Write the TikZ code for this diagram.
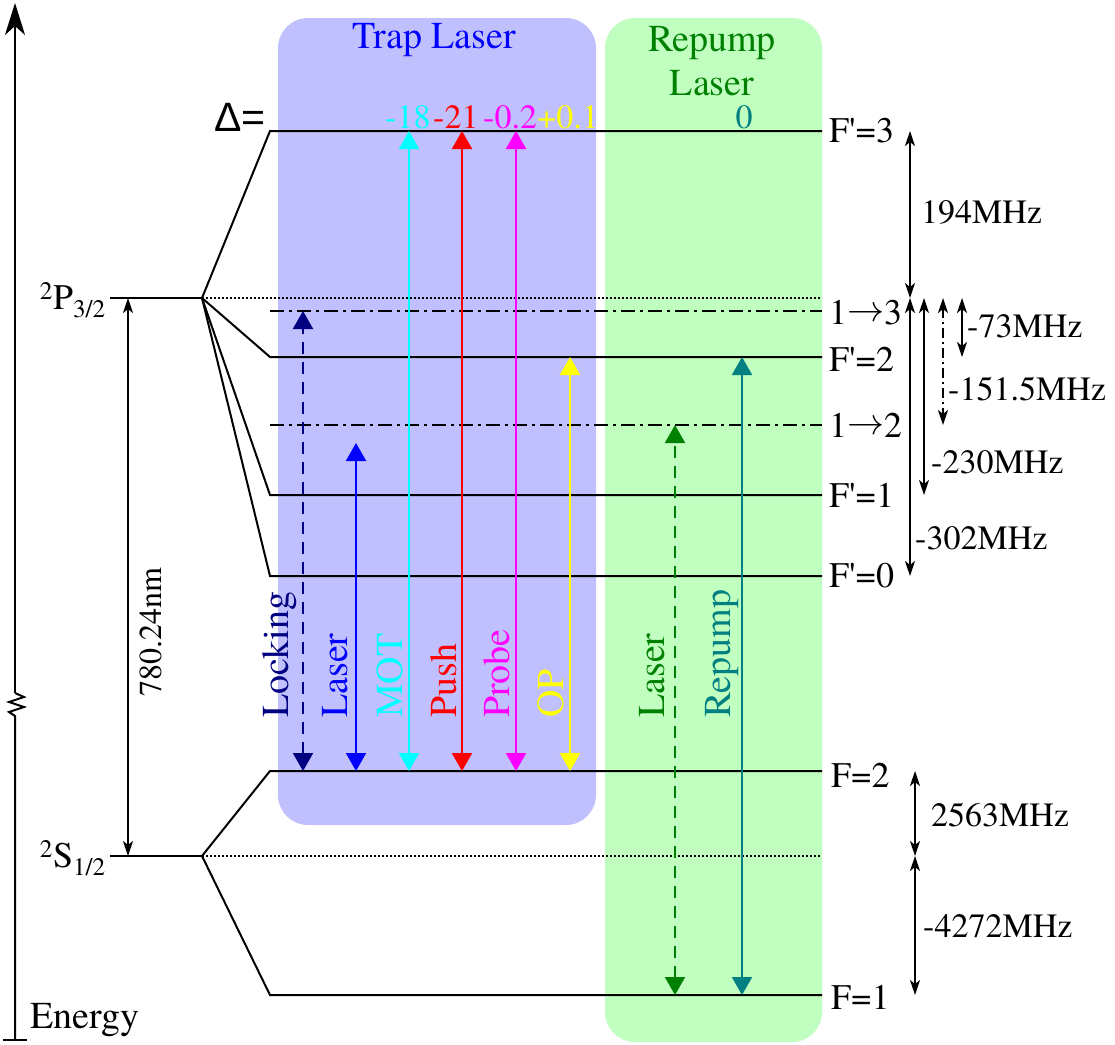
\documentclass[tikz,border=0pt]{standalone}
\usepackage{fontspec}
\setmainfont{TeX Gyre Termes}
\newfontfamily\sansf{Liberation Sans}
\usetikzlibrary{arrows.meta}
\definecolor{trapbg}{RGB}{192,192,255}
\definecolor{repbg}{RGB}{192,255,192}
\definecolor{dgreen}{RGB}{0,128,0}
\definecolor{tealc}{RGB}{0,128,128}
\definecolor{navyc}{RGB}{0,0,128}
\definecolor{yelc}{RGB}{255,255,0}
\definecolor{cyanc}{RGB}{0,255,255}
\definecolor{magc}{RGB}{255,0,255}
\definecolor{redc}{RGB}{255,0,0}
\definecolor{bluec}{RGB}{0,0,255}
\newcommand{\myarrow}{\raisebox{3pt}{\fontsize{10}{12}\selectfont\scalebox{3.7}{$\rightarrow$}}}
\tikzset{
  lvl/.style={line width=2pt},
  dotl/.style={line width=1.5pt, dash pattern=on 1.5pt off 2.5pt},
  dashdotl/.style={line width=1.5pt, dash pattern=on 14pt off 5pt on 3pt off 5pt},
  trarr/.style={line width=2pt, {Triangle[length=18pt,width=20pt]}-{Triangle[length=18pt,width=20pt]}},
  dblarr/.style={line width=2pt, {Stealth[length=15pt,width=10pt,inset=4pt]}-{Stealth[length=15pt,width=10pt,inset=4pt]}},
  lab/.style={font=\fontsize{36}{40}\selectfont, inner sep=0pt},
  mhz/.style={font=\fontsize{34}{38}\selectfont, inner sep=0pt, anchor=west},
  vlab/.style={font=\fontsize{38}{42}\selectfont, rotate=90, anchor=west, inner sep=0pt},
  dnum/.style={font=\fontsize{34}{38}\selectfont, inner sep=0pt, anchor=west},
  boxbg/.style={rounded corners=30pt, draw=none}
}
\begin{document}
\begin{tikzpicture}[x=1pt,y=-1pt]
\useasboundingbox (0,0) rectangle (1115,1044);
% background boxes
\fill[trapbg, boxbg] (278,18) rectangle (596,825);
\fill[repbg, boxbg] (605,18) rectangle (822,1042);
\node[lab, font=\fontsize{38}{42}\selectfont, text=bluec] (traplab) at (434,40) {Trap Laser};
\node[lab, font=\fontsize{38}{42}\selectfont, text=dgreen] (replab1) at (712,43) {Repump};
\node[lab, font=\fontsize{38}{42}\selectfont, text=dgreen] (replab2) at (712,83) {Laser};

% energy axis
\coordinate (eb) at (15,1040);
\coordinate (zb) at (15,716);
\coordinate (zt) at (15,693);
\coordinate (et) at (15,3);
\draw[line width=2pt] (3,1040) -- (27,1040);
\draw[line width=2pt] (eb) -- (zb) -- (9,712) -- (24,707) -- (9,702) -- (24,697) -- (zt);
\draw[line width=2pt, -{Stealth[length=32pt,width=20pt,inset=9pt]}] (zt) -- (et);
\node[lab, font=\fontsize{38}{42}\selectfont, anchor=west] (energy) at (30,1020) {Energy};

% fine structure
\coordinate (P0) at (110,298);
\coordinate (P) at (202,298);
\coordinate (S0) at (110,856);
\coordinate (S) at (202,856);
\draw[lvl] (P0) -- (P);
\draw[lvl] (S0) -- (S);
\node[lab, anchor=base east] (plab) at (106,309) {\textsuperscript{2}P\textsubscript{3/2}};
\node[lab, anchor=base east] (slab) at (106,867) {\textsuperscript{2}S\textsubscript{1/2}};
\draw[dblarr] (128,298) -- (128,856);
\node[lab, font=\fontsize{32}{35}\selectfont, rotate=90] (nm) at (151,632) {780.24nm};

% hyperfine levels
\foreach \n/\y in {F3/131, F2/357, F1/495, F0/576}{
  \coordinate (\n l) at (270,\y);
  \coordinate (\n r) at (822,\y);
  \draw[lvl] (P) -- (\n l) -- (\n r);
}
\foreach \n/\y in {G2/771, G1/995}{
  \coordinate (\n l) at (270,\y);
  \coordinate (\n r) at (822,\y);
  \draw[lvl] (S) -- (\n l) -- (\n r);
}
\coordinate (Pd) at (820,298);
\coordinate (Sd) at (820,856);
\draw[dotl] (P) -- (Pd);
\draw[dotl] (S) -- (Sd);
\coordinate (C13l) at (270,311); \coordinate (C13r) at (822,311);
\coordinate (C12l) at (270,425); \coordinate (C12r) at (822,425);
\draw[dashdotl] (C13l) -- (C13r);
\draw[dashdotl] (C12l) -- (C12r);

% right labels
\node[lab, anchor=west] (lF3) at (829,131) {F\textquotesingle=3};
\node[lab, anchor=west] (l13) at (829,313) {1\myarrow3};
\node[lab, anchor=west] (lF2) at (829,359) {F\textquotesingle=2};
\node[lab, anchor=west] (l12) at (829,425) {1\myarrow2};
\node[lab, anchor=west] (lF1) at (829,495) {F\textquotesingle=1};
\node[lab, anchor=west] (lF0) at (829,576) {F\textquotesingle=0};
\node[lab, anchor=west] (lG2) at (831,775) {F=2};
\node[lab, anchor=west] (lG1) at (831,997) {F=1};

% detuning header
\node[lab, anchor=west, font=\sansf\fontsize{41}{44}\selectfont] (delta) at (214,117) {Δ=};
\node[dnum, text=cyanc] (d18) at (385,117) {-18};
\node[dnum, text=redc] (d21) at (433,117) {-21};
\node[dnum, text=magc] (d02) at (483,117) {-0.2};
\node[dnum, text=yelc] (d01) at (537,117) {+0.1};
\node[dnum, anchor=center, text=tealc] (d0) at (744,117) {0};

% transition arrows
\foreach \n/\x/\yt/\yb in {lock/303/311/771, las/356/443/771, mot/409/131/771, push/462/131/771, prob/516/131/771, op/570/357/771, glas/675/425/995, rep/742/357/995}{
  \coordinate (\n T) at (\x,\yt);
  \coordinate (\n B) at (\x,\yb);
}
\draw[trarr, navyc, dash pattern=on 12pt off 8pt] (lockB) -- (lockT);
\draw[trarr, bluec] (lasB) -- (lasT);
\draw[trarr, cyanc] (motB) -- (motT);
\draw[trarr, redc] (pushB) -- (pushT);
\draw[trarr, magc] (probB) -- (probT);
\draw[trarr, yelc] (opB) -- (opT);
\draw[trarr, dgreen, dash pattern=on 12pt off 8pt] (glasB) -- (glasT);
\draw[trarr, tealc] (repB) -- (repT);

\node[vlab, text=navyc] (vlock) at (280,718) {Locking};
\node[vlab, text=bluec] (vlas) at (335,718) {Laser};
\node[vlab, text=cyanc] (vmot) at (390,718) {MOT};
\node[vlab, text=redc] (vpush) at (444,718) {Push};
\node[vlab, text=magc] (vprob) at (497,718) {Probe};
\node[vlab, text=yelc] (vop) at (551,718) {OP};
\node[vlab, text=dgreen] (vglas) at (652,718) {Laser};
\node[vlab, text=tealc] (vrep) at (722,718) {Repump};

% splitting arrows
\coordinate (a194t) at (910,131); \coordinate (a194b) at (910,298);
\coordinate (a302t) at (910,298); \coordinate (a302b) at (910,576);
\coordinate (a230t) at (924,298); \coordinate (a230b) at (924,495);
\coordinate (a151t) at (943,298); \coordinate (a151b) at (943,425);
\coordinate (a73t) at (962,298); \coordinate (a73b) at (962,357);
\coordinate (a2563t) at (915,771); \coordinate (a2563b) at (915,856);
\coordinate (a4272t) at (915,856); \coordinate (a4272b) at (915,995);
\draw[dblarr] (a194t) -- (a194b);
\draw[dblarr] (a302t) -- (a302b);
\draw[dblarr] (a230t) -- (a230b);
\draw[dblarr, dash pattern=on 10pt off 4pt on 2pt off 4pt] (a151t) -- (a151b);
\draw[dblarr] (a73t) -- (a73b);
\draw[dblarr] (a2563t) -- (a2563b);
\draw[dblarr] (a4272t) -- (a4272b);
\node[mhz] (m194) at (921,212) {194MHz};
\node[mhz] (m73) at (967,326) {-73MHz};
\node[mhz] (m151) at (948,389) {-151.5MHz};
\node[mhz] (m230) at (931,462) {-230MHz};
\node[mhz] (m302) at (915,538) {-302MHz};
\node[mhz] (m2563) at (931,815) {2563MHz};
\node[mhz] (m4272) at (923,926) {-4272MHz};
\end{tikzpicture}
\end{document}
